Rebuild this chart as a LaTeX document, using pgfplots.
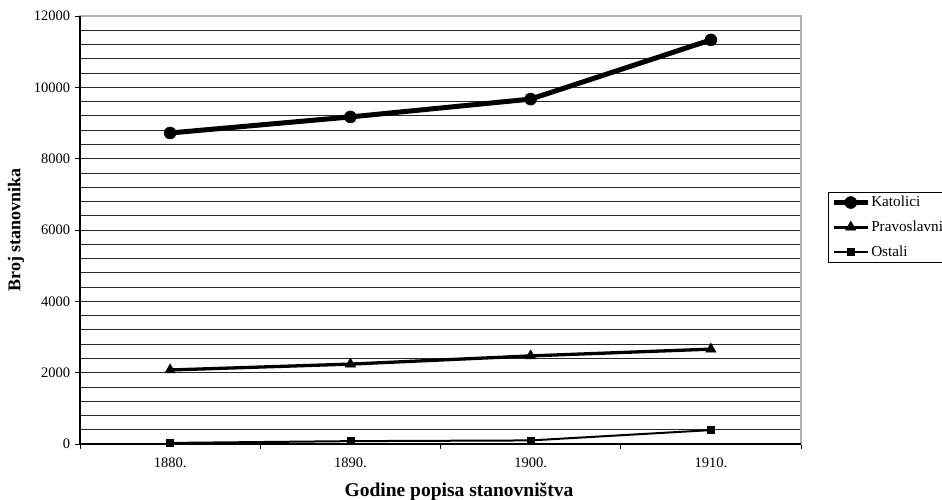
\documentclass[border=0pt]{standalone}
\usepackage{fontspec}
\setmainfont{Liberation Serif}
\usepackage{pgfplots}
\pgfplotsset{compat=1.18}

\pgfplotsset{
  longlegend/.style={
    legend image code/.code={
      \draw[mark repeat=2,mark phase=2] plot coordinates {(0pt,0pt) (17pt,0pt) (34pt,0pt)};
    }
  }
}

\begin{document}
\fontsize{14}{16}\selectfont
\begin{tikzpicture}
  \begin{axis}[
      at={(0,0)}, anchor=south west,
      scale only axis,
      width=721pt, height=428pt,
      xmin=-0.5, xmax=3.5,
      ymin=0, ymax=12000,
      xtick={0,1,2,3},
      xticklabels={1880., 1890., 1900., 1910.},
      minor xtick={-0.5,0.5,1.5,2.5,3.5},
      ytick={0,2000,...,10000},
      minor ytick={400,800,...,11600},
      extra y ticks={12000},
      extra y tick style={grid=none},
      xtick pos=bottom, ytick pos=left,
      major x tick style={draw=none},
      minor x tick style={draw=black, line width=0.8pt},
      minor y tick style={draw=none},
      major y tick style={draw=black, line width=0.8pt},
      tick align=outside,
      major tick length=5pt,
      minor tick length=5pt,
      ymajorgrids, yminorgrids,
      major grid style={black!85, line width=0.8pt},
      minor grid style={black!85, line width=0.8pt},
      axis line style={draw=gray!60, line width=1.2pt},
      scaled y ticks=false,
      /pgf/number format/assume math mode=true,
      tick label style={font=\fontsize{14.5}{16}\selectfont},
      yticklabel={\pgfmathprintnumber[1000 sep={}]{\tick}},
      xticklabel style={yshift=-4pt},
      xlabel={Godine popisa stanovništva},
      ylabel={Broj stanovnika},
      x label style={at={(axis description cs:0.5257,-0.112)}, anchor=center,
        font=\bfseries\fontsize{19.5}{21}\selectfont},
      y label style={at={(axis description cs:-0.0888,0.5)}, anchor=center,
        font=\bfseries\fontsize{18}{20}\selectfont},
      longlegend,
      legend cell align=left,
      legend style={
        at={(1.0374,0.589)}, anchor=north west,
        draw=black, line width=0.6pt,
        inner sep=3pt,
        row sep=10pt,
        font=\fontsize{15.2}{17}\selectfont,
        nodes={inner sep=1pt},
      },
    ]

    \addplot[black, line width=5pt, mark=*, mark size=6pt, mark options={line width=0.5pt}]
      coordinates {(0,8720) (1,9170) (2,9670) (3,11330)};
    \addlegendentry{Katolici}

    \addplot[black, line width=3.3pt, mark=triangle*, mark size=6pt, mark options={line width=0.5pt}]
      coordinates {(0,2075) (1,2240) (2,2470) (3,2660)};
    \addlegendentry{Pravoslavni}

    \addplot[black, line width=2pt, mark=square*, mark size=3.5pt, mark options={line width=0.5pt}]
      coordinates {(0,30) (1,80) (2,100) (3,390)};
    \addlegendentry{Ostali}

  \end{axis}
  \draw[black, line width=1.2pt] (0,428pt) -- (0,0) -- (721pt,0);
  \pgfresetboundingbox
  \useasboundingbox (-80pt,-56pt) rectangle (862pt,444pt);
\end{tikzpicture}
\end{document}
